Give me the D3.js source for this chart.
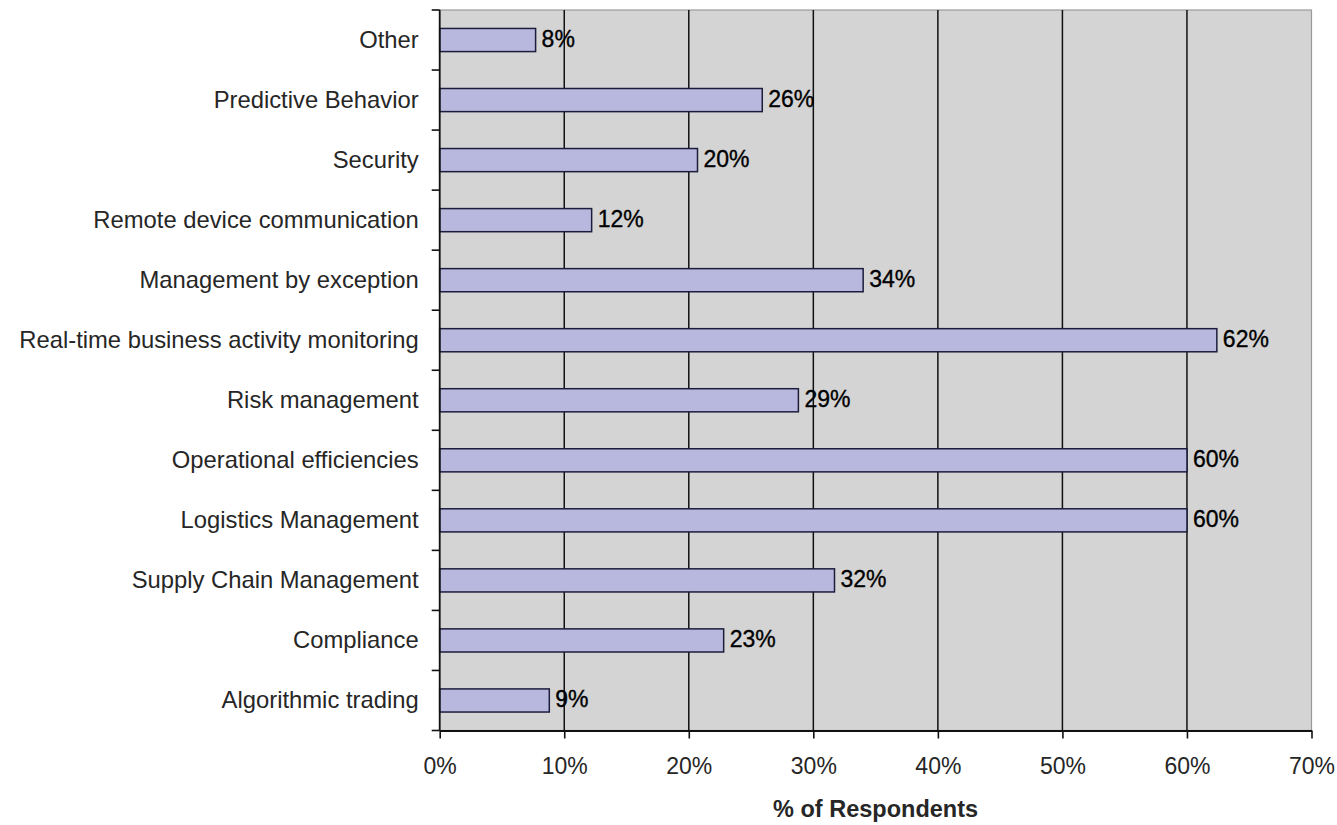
<!DOCTYPE html>
<html>
<head>
<meta charset="utf-8">
<script src="https://cdn.jsdelivr.net/npm/d3@7/dist/d3.min.js"></script>
<style>
  html, body { margin: 0; padding: 0; background: #ffffff; }
  svg { display: block; }
  text { font-family: "Liberation Sans", Arial, sans-serif; }
</style>
</head>
<body>
<svg id="chart" width="1337" height="825"></svg>
<script>
const categories = [
  "Other",
  "Predictive Behavior",
  "Security",
  "Remote device communication",
  "Management by exception",
  "Real-time business activity monitoring",
  "Risk management",
  "Operational efficiencies",
  "Logistics Management",
  "Supply Chain Management",
  "Compliance",
  "Algorithmic trading"
];
const values = [7.7, 25.9, 20.7, 12.2, 34.0, 62.4, 28.8, 60.0, 60.0, 31.7, 22.8, 8.8];
const valueLabels = ["8%", "26%", "20%", "12%", "34%", "62%", "29%", "60%", "60%", "32%", "23%", "9%"];
const xTicks = [0, 10, 20, 30, 40, 50, 60, 70];
const xTitle = "% of Respondents";

(function () {
const svg = d3.select("#chart");
const pL = 439.7, pR = 1311.5, pT = 10, pB = 730.5;

const x = d3.scaleLinear().domain([0, 70]).range([pL, pR]);
const y = d3.scaleBand().domain(categories).range([pT, pB])
  .paddingInner(0.615).paddingOuter(0.3075);

// plot background
svg.append("rect")
  .attr("x", pL).attr("y", pT)
  .attr("width", pR - pL).attr("height", pB - pT)
  .attr("fill", "#d4d4d4")
  .attr("stroke", "#9a9a9a").attr("stroke-width", 1.2);

// vertical gridlines
svg.append("g").selectAll("line").data(xTicks.slice(1, -1)).join("line")
  .attr("x1", d => x(d)).attr("x2", d => x(d))
  .attr("y1", pT).attr("y2", pB)
  .attr("stroke", "#111").attr("stroke-width", 1.5);

// bars
svg.append("g").selectAll("rect").data(categories).join("rect")
  .attr("x", x(0))
  .attr("y", d => y(d))
  .attr("width", (d, i) => x(values[i]) - x(0))
  .attr("height", y.bandwidth())
  .attr("fill", "#b8b8de")
  .attr("stroke", "#1c1c3c").attr("stroke-width", 1.5);

// value labels
svg.append("g").selectAll("text").data(categories).join("text")
  .attr("x", (d, i) => x(values[i]) + 6)
  .attr("y", d => y(d) + y.bandwidth() / 2 + 7)
  .attr("font-size", 23)
  .attr("fill", "#000")
  .attr("stroke", "#000").attr("stroke-width", 0.35)
  .text((d, i) => valueLabels[i]);

// x axis
const xAxis = d3.axisBottom(x).tickValues(xTicks).tickFormat(d => d + "%")
  .tickSize(8).tickSizeOuter(0).tickPadding(19);
const gx = svg.append("g").attr("transform", `translate(0,${pB})`).call(xAxis);
gx.select(".domain").attr("stroke", "#111").attr("stroke-width", 1.8);
gx.selectAll(".tick line").attr("stroke", "#111").attr("stroke-width", 1.6);
gx.selectAll(".tick text").attr("font-size", 23).attr("fill", "#262626")
  .attr("font-family", "'Liberation Sans', Arial, sans-serif");

// y axis (ticks at category boundaries)
svg.append("line")
  .attr("x1", pL).attr("x2", pL).attr("y1", pT).attr("y2", pB)
  .attr("stroke", "#111").attr("stroke-width", 1.8);
const boundaries = d3.range(categories.length + 1).map(i => pT + i * y.step());
svg.append("g").selectAll("line").data(boundaries).join("line")
  .attr("x1", pL - 8).attr("x2", pL)
  .attr("y1", d => d).attr("y2", d => d)
  .attr("stroke", "#111").attr("stroke-width", 1.6);

// category labels
svg.append("g").selectAll("text").data(categories).join("text")
  .attr("x", pL - 21)
  .attr("y", d => y(d) + y.bandwidth() / 2 + 8)
  .attr("text-anchor", "end")
  .attr("font-size", 23.8)
  .attr("fill", "#262626")
  .text(d => d);

// x title
svg.append("text")
  .attr("x", (pL + pR) / 2)
  .attr("y", 817)
  .attr("text-anchor", "middle")
  .attr("font-size", 23.5)
  .attr("font-weight", "bold")
  .attr("fill", "#262626")
  .text(xTitle);
})();
</script>
</body>
</html>
